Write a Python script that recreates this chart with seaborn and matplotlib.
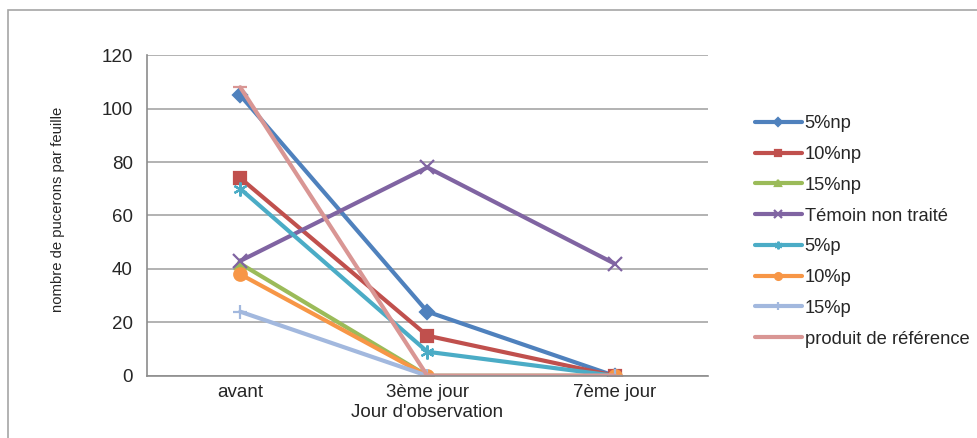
import seaborn as sns
import matplotlib.pyplot as plt
import pandas as pd
from matplotlib.patches import Rectangle

days = ["avant", "3ème jour", "7ème jour"]
series = ["5%np", "10%np", "15%np", "Témoin non traité", "5%p", "10%p", "15%p", "produit de référence"]
v_5np = [105, 24, 0]
v_10np = [74, 15, 0]
v_15np = [42, 0, 0]
v_temoin = [43, 78, 42]
v_5p = [70, 9, 0]
v_10p = [38, 0, 0]
v_15p = [24, 0, 0]
v_ref = [108, 0, 0]
values = [v_5np, v_10np, v_15np, v_temoin, v_5p, v_10p, v_15p, v_ref]

colors = ["#4F81BD", "#C0504D", "#9BBB59", "#8064A2", "#4BACC6", "#F79646", "#A2B8DE", "#D99694"]
markers = ["D", "s", "^", "x", (6, 2, 0), "o", "+", "_"]
msizes = [7, 9, 7, 10, 10, 9, 10, 10]

rows = []
for name, vals in zip(series, values):
    for d, v in zip(days, vals):
        rows.append({"jour": d, "serie": name, "val": v})
df = pd.DataFrame(rows)

sns.set_style("white")
plt.rcParams["font.family"] = ["Liberation Sans", "DejaVu Sans"]

fig = plt.figure(figsize=(9.78, 4.38), dpi=100)
ax = fig.add_axes([0.150, 0.142, 0.574, 0.732])

for i, name in enumerate(series):
    sub = df[df["serie"] == name]
    sns.lineplot(data=sub, x="jour", y="val", ax=ax, color=colors[i], lw=3,
                 marker=markers[i], markersize=msizes[i], markeredgewidth=1.6,
                 markeredgecolor=colors[i], label=name)

ax.set_xlim(-0.5, 2.5)
ax.set_ylim(0, 120)
ax.set_yticks(range(0, 121, 20))
ax.yaxis.grid(True, color="#A6A6A6", lw=1.2)
ax.set_axisbelow(True)
for s in ["top", "right"]:
    ax.spines[s].set_visible(False)
for s in ["left", "bottom"]:
    ax.spines[s].set_color("#8C8C8C")
    ax.spines[s].set_linewidth(1.2)
ax.tick_params(axis="y", length=5, color="#8C8C8C", labelsize=13.5, pad=5)
ax.tick_params(axis="x", which="major", length=0, labelsize=13.5, pad=6)
ax.set_xticks([-0.5, 0.5, 1.5, 2.5], minor=True)
ax.tick_params(axis="x", which="minor", length=5, color="#8C8C8C", direction="out")
ax.set_xlabel("Jour d'observation", fontsize=13.5, labelpad=2)
ax.set_ylabel("nombre de pucerons par feuille", fontsize=10.7)
ax.yaxis.set_label_coords(-0.146, 0.519)

leg = ax.legend(loc="center left", bbox_to_anchor=(1.0836, 0.45), frameon=False,
                fontsize=13.2, handlelength=2.55, labelspacing=0.75, handletextpad=0.15,
                borderaxespad=0, borderpad=0, markerscale=0.55)

fig.patches.append(Rectangle((0.008, -0.01), 1.2, 0.987, transform=fig.transFigure,
                             fill=False, edgecolor="#A6A6A6", lw=1.2))

fig.savefig("out.png", dpi=100)
